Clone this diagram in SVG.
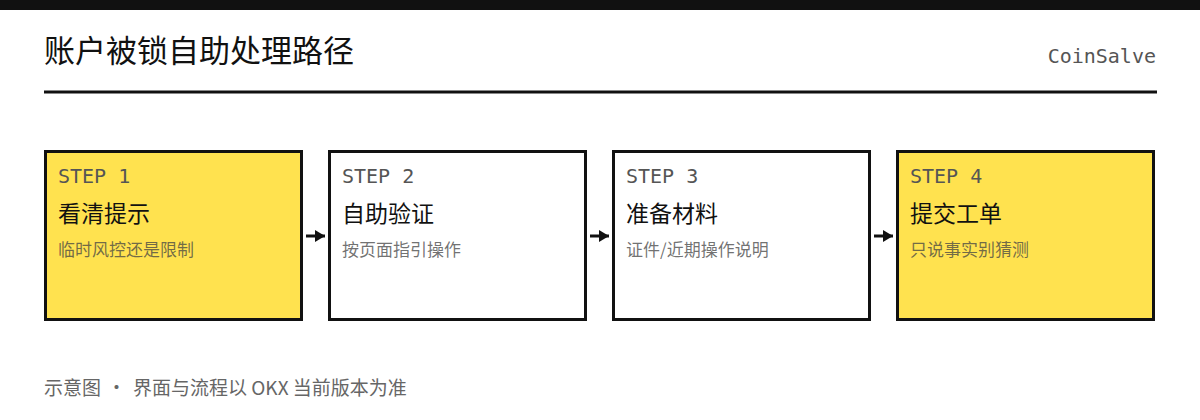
<svg xmlns="http://www.w3.org/2000/svg" width="1200" height="420" viewBox="0 0 1200 420">
<defs>
<style>
.sans{font-family:"Noto Sans CJK SC","Noto Sans",sans-serif}
.mono{font-family:"DejaVu Sans Mono","Liberation Mono",monospace}
.box{stroke:#111;stroke-width:3}
.y{fill:#FFE24F}
.w{fill:#fff}
.step{font-size:20px;fill:#555}
.ttl{font-size:23px;fill:#111}
.sub{font-size:17px;fill:#444;fill-opacity:0.75}
.conn{stroke:#111;stroke-width:3;fill:none}
</style>
<marker id="ah" viewBox="0 0 10 12" refX="10" refY="6" markerWidth="10" markerHeight="12" markerUnits="userSpaceOnUse" orient="auto">
<path d="M0,0 L10,6 L0,12 z" fill="#111"/>
</marker>
</defs>
<rect width="1200" height="420" fill="#fff"/>
<rect x="0" y="0" width="1200" height="10" fill="#111"/>
<text x="44" y="62" class="sans" font-size="31" fill="#111">账户被锁自助处理路径</text>
<text x="1156" y="63" class="mono" font-size="20" fill="#555" text-anchor="end">CoinSalve</text>
<rect x="44" y="90.5" width="1113" height="3" fill="#111"/>
<g id="step1">
<rect class="box y" x="45.5" y="151.5" width="256" height="168"/>
<text class="mono step" x="58" y="183">STEP 1</text>
<text class="sans ttl" x="58" y="222">看清提示</text>
<text class="sans sub" x="58" y="256">临时风控还是限制</text>
</g>
<g id="step2">
<rect class="box w" x="329.5" y="151.5" width="256" height="168"/>
<text class="mono step" x="342" y="183">STEP 2</text>
<text class="sans ttl" x="342" y="222">自助验证</text>
<text class="sans sub" x="342" y="256">按页面指引操作</text>
</g>
<g id="step3">
<rect class="box w" x="613.5" y="151.5" width="256" height="168"/>
<text class="mono step" x="626" y="183">STEP 3</text>
<text class="sans ttl" x="626" y="222">准备材料</text>
<text class="sans sub" x="626" y="256">证件/近期操作说明</text>
</g>
<g id="step4">
<rect class="box y" x="897.5" y="151.5" width="256" height="168"/>
<text class="mono step" x="910" y="183">STEP 4</text>
<text class="sans ttl" x="910" y="222">提交工单</text>
<text class="sans sub" x="910" y="256">只说事实别猜测</text>
</g>
<g id="connectors">
<line class="conn" x1="306" y1="236" x2="325" y2="236" marker-end="url(#ah)"/>
<line class="conn" x1="590" y1="236" x2="609" y2="236" marker-end="url(#ah)"/>
<line class="conn" x1="874" y1="236" x2="893" y2="236" marker-end="url(#ah)"/>
</g>
<text y="395" class="sans" font-size="19" fill="#666"><tspan x="44">示意图</tspan><tspan x="107">·</tspan><tspan x="133">界面与流程以 OKX 当前版本为准</tspan></text>
</svg>
